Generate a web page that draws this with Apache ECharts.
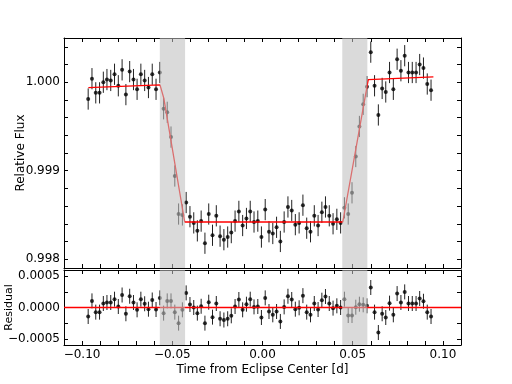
<!DOCTYPE html>
<html>
<head>
<meta charset="utf-8">
<script src="https://cdn.jsdelivr.net/npm/echarts@6/dist/echarts.min.js"></script>
<style>
  html, body { margin: 0; padding: 0; background: #fff; }
  #chart { width: 512px; height: 384px; }
</style>
</head>
<body>
<div id="chart"></div>
<script>
// Observation times [d] relative to eclipse center
const times = [
  -0.0966, -0.0945, -0.0924, -0.0903, -0.0882, -0.0862, -0.0841, -0.0820, -0.0799, -0.0778,
  -0.0757, -0.0736, -0.0715, -0.0695, -0.0674, -0.0653, -0.0632, -0.0611, -0.0590, -0.0569,
  -0.0548, -0.0528, -0.0507, -0.0486, -0.0465, -0.0444, -0.0423, -0.0402, -0.0381, -0.0361,
  -0.0340, -0.0319, -0.0298, -0.0277, -0.0256, -0.0235, -0.0214, -0.0193, -0.0173, -0.0152,
  -0.0131, -0.0110, -0.0089, -0.0068, -0.0047, -0.0026, -0.0006, 0.0015, 0.0036, 0.0057,
  0.0078, 0.0099, 0.0120, 0.0141, 0.0162, 0.0182, 0.0203, 0.0224, 0.0245, 0.0266,
  0.0287, 0.0308, 0.0329, 0.0349, 0.0370, 0.0391, 0.0412, 0.0433, 0.0454, 0.0475,
  0.0496, 0.0517, 0.0537, 0.0558, 0.0579, 0.0600, 0.0621, 0.0642, 0.0663, 0.0683,
  0.0704, 0.0725, 0.0746, 0.0767, 0.0788, 0.0809, 0.0830, 0.0851, 0.0871, 0.0892,
  0.0913, 0.0934
];

const flux = [
  0.99981, 1.00004, 0.99988, 0.99988, 1.00000, 1.00003, 1.00002, 1.00009, 0.99996, 1.00014,
  0.99986, 1.00012, 1.00003, 0.99992, 1.00009, 1.00002, 0.99994, 1.00009, 0.99992, 1.00011,
  0.99970, 0.99966, 0.99938, 0.99894, 0.99851, 0.99850, 0.99864, 0.99848, 0.99841, 0.99832,
  0.99843, 0.99818, 0.99851, 0.99827, 0.99849, 0.99826, 0.99822, 0.99825, 0.99830, 0.99843,
  0.99854, 0.99838, 0.99846, 0.99854, 0.99842, 0.99843, 0.99825, 0.99856, 0.99831, 0.99829,
  0.99836, 0.99820, 0.99842, 0.99859, 0.99855, 0.99839, 0.99841, 0.99861, 0.99835, 0.99831,
  0.99849, 0.99838, 0.99853, 0.99859, 0.99849, 0.99840, 0.99845, 0.99841, 0.99858, 0.99851,
  0.99875, 0.99916, 0.99950, 0.99975, 0.99995, 1.00034, 0.99996, 0.99963, 0.99993, 0.99989,
  1.00011, 0.99992, 1.00026, 1.00013, 1.00030, 1.00011, 1.00011, 1.00011, 1.00020, 1.00016,
  0.99998, 0.99991
];

const residual = [
  -0.000144, 0.000106, -0.000074, -0.000074, 0.000064, 0.000080, 0.000080, 0.000133, 0.000016, 0.000200,
  -0.000100, 0.000180, 0.000080, -0.000037, 0.000133, 0.000060, -0.000027, 0.000120, -0.000032, 0.000154,
  -0.000090, 0.000106, 0.000106, -0.000074, -0.000250, -0.000037, 0.000234, 0.000048, 0.000000, -0.000090,
  0.000020, -0.000250, 0.000085, -0.000154, 0.000064, -0.000180, -0.000200, -0.000180, -0.000133, 0.000016,
  0.000128, -0.000037, 0.000053, 0.000133, 0.000010, 0.000016, -0.000160, 0.000154, -0.000064, -0.000117,
  -0.000064, -0.000223, 0.000010, 0.000180, 0.000128, -0.000027, -0.000005, 0.000190, -0.000074, -0.000117,
  0.000064, -0.000032, 0.000117, 0.000176, 0.000064, -0.000010, 0.000027, 0.000000, 0.000133, -0.000128,
  -0.000128, 0.000005, 0.000053, 0.000043, 0.000027, 0.000320, -0.000074, -0.000400, -0.000100, -0.000160,
  0.000070, -0.000117, 0.000223, 0.000080, 0.000250, 0.000064, 0.000064, 0.000064, 0.000144, 0.000100,
  -0.000074, -0.000144
];

const fluxErr = 0.00012;
const residErr = 0.00012;

// eclipse model (red curve)
const modelTimes = [-0.0965, -0.0568, -0.0547, -0.0431, 0.0445, 0.0586, 0.0947];
const modelFlux = [0.99994, 0.99997, 0.99982, 0.99842, 0.99842, 1.00003, 1.00006];

// ingress / egress windows
const ingress = [-0.0569, -0.0429];
const egress = [0.0442, 0.0581];

// axis ticks and labels
const xRange = [-0.11, 0.11];
const xTicks = [-0.10, -0.09, -0.08, -0.07, -0.06, -0.05, -0.04, -0.03, -0.02, -0.01, 0,
  0.01, 0.02, 0.03, 0.04, 0.05, 0.06, 0.07, 0.08, 0.09, 0.10];
const xLabels = [-0.10, -0.05, 0, 0.05, 0.10];
const fluxRange = [0.9979, 1.0005];
const fluxTicks = [0.9980, 0.9982, 0.9984, 0.9986, 0.9988, 0.9990, 0.9992, 0.9994, 0.9996, 0.9998, 1.0000, 1.0002, 1.0004];
const fluxLabels = [0.998, 0.999, 1.000];
const residRange = [-0.0006, 0.0006];
const residTicks = [-0.0005, -0.00025, 0, 0.00025, 0.0005];
const residLabels = [-0.0005, 0, 0.0005];

const chart = echarts.init(document.getElementById('chart'));

const fmt = (digits) => (v) => {
  const s = Math.abs(v).toFixed(digits);
  return (v < 0 && Number(s) !== 0 ? '\u2212' : '') + s;
};

function axisBase(grid, pos, range, ticks, labels, digits) {
  return {
    type: 'value',
    gridIndex: grid,
    position: pos,
    min: range[0],
    max: range[1],
    axisLine: { show: true, onZero: false, lineStyle: { color: '#000', width: 1 } },
    axisTick: { show: true, inside: true, length: 4, customValues: ticks, lineStyle: { color: '#000', width: 1 } },
    axisLabel: labels ? {
      show: true, customValues: labels, formatter: fmt(digits),
      color: '#000', fontSize: 12, fontFamily: 'DejaVu Sans', margin: 4
    } : { show: false },
    splitLine: { show: false }
  };
}

const errData = times.map((t, i) => [t, flux[i], fluxErr]);
const resErrData = times.map((t, i) => [t, residual[i], residErr]);

function errRender(params, api) {
  const x = api.value(0), y = api.value(1), e = api.value(2);
  const lo = api.coord([x, y - e]);
  const hi = api.coord([x, y + e]);
  return {
    type: 'line',
    shape: { x1: lo[0], y1: lo[1], x2: hi[0], y2: hi[1] },
    style: { stroke: '#222', lineWidth: 1 }
  };
}

function shadeRender(params, api) {
  const a = api.coord([api.value(0), api.value(2)]);
  const b = api.coord([api.value(1), api.value(2)]);
  const cs = params.coordSys;
  return {
    type: 'rect',
    shape: { x: a[0], y: cs.y, width: b[0] - a[0], height: cs.height },
    style: { fill: 'rgba(192,192,192,0.58)' }
  };
}

const xName = {
  name: 'Time from Eclipse Center [d]',
  nameLocation: 'middle',
  nameGap: 19,
  nameMoveOverlap: false,
  nameTextStyle: { color: '#000', fontSize: 12, fontFamily: 'DejaVu Sans' }
};

const option = {
  animation: false,
  backgroundColor: '#fff',
  textStyle: { fontFamily: 'DejaVu Sans' },
  grid: [
    { left: 64, right: 51, top: 38, height: 230, containLabel: false, outerBoundsMode: 'none' },
    { left: 64, right: 51, top: 270, height: 75, containLabel: false, outerBoundsMode: 'none' }
  ],
  xAxis: [
    axisBase(0, 'bottom', xRange, xTicks, null, 2),
    axisBase(0, 'top', xRange, xTicks, null, 2),
    Object.assign(axisBase(1, 'bottom', xRange, xTicks, xLabels, 2), xName),
    axisBase(1, 'top', xRange, xTicks, null, 2)
  ],
  yAxis: [
    Object.assign(axisBase(0, 'left', fluxRange, fluxTicks, fluxLabels, 3), {
      name: 'Relative Flux', nameLocation: 'middle', nameGap: 37, nameMoveOverlap: false,
      nameTextStyle: { color: '#000', fontSize: 12, fontFamily: 'DejaVu Sans' }
    }),
    axisBase(0, 'right', fluxRange, fluxTicks, null, 3),
    Object.assign(axisBase(1, 'left', residRange, residTicks, residLabels, 4), {
      name: 'Residual', nameLocation: 'middle', nameGap: 49, nameMoveOverlap: false,
      nameTextStyle: { color: '#000', fontSize: 11, fontFamily: 'DejaVu Sans' }
    }),
    axisBase(1, 'right', residRange, residTicks, null, 4)
  ],
  series: [
    {
      type: 'custom', xAxisIndex: 0, yAxisIndex: 0, z: 2,
      renderItem: errRender, encode: { x: 0, y: 1 }, data: errData, silent: true
    },
    {
      type: 'scatter', xAxisIndex: 0, yAxisIndex: 0, z: 3,
      symbol: 'circle', symbolSize: 4, itemStyle: { color: '#000' },
      data: times.map((t, i) => [t, flux[i]]), silent: true
    },
    {
      type: 'line', xAxisIndex: 0, yAxisIndex: 0, z: 4,
      showSymbol: false, lineStyle: { color: '#ff0000', width: 1.3 },
      data: modelTimes.map((t, i) => [t, modelFlux[i]]), silent: true
    },
    {
      type: 'custom', xAxisIndex: 0, yAxisIndex: 0, z: 6,
      renderItem: shadeRender, encode: { x: [0, 1], y: 2 },
      data: [[ingress[0], ingress[1], fluxLabels[1]], [egress[0], egress[1], fluxLabels[1]]], silent: true
    },
    {
      type: 'custom', xAxisIndex: 2, yAxisIndex: 2, z: 2,
      renderItem: errRender, encode: { x: 0, y: 1 }, data: resErrData, silent: true
    },
    {
      type: 'scatter', xAxisIndex: 2, yAxisIndex: 2, z: 3,
      symbol: 'circle', symbolSize: 4, itemStyle: { color: '#000' },
      data: times.map((t, i) => [t, residual[i]]), silent: true,
      markLine: {
        silent: true, symbol: 'none', label: { show: false },
        lineStyle: { color: '#ff0000', type: 'solid', width: 1.3 },
        data: [{ yAxis: 0 }]
      }
    },
    {
      type: 'custom', xAxisIndex: 2, yAxisIndex: 2, z: 6,
      renderItem: shadeRender, encode: { x: [0, 1], y: 2 },
      data: [[ingress[0], ingress[1], 0], [egress[0], egress[1], 0]], silent: true
    }
  ]
};

chart.setOption(option);
</script>
</body>
</html>
